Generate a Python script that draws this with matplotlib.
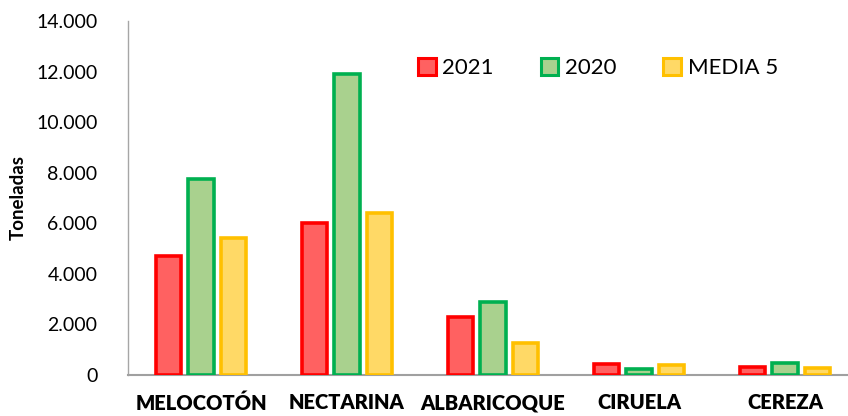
import matplotlib
matplotlib.use("Agg")
import matplotlib.pyplot as plt
import numpy as np
from matplotlib.patches import Patch
from matplotlib.ticker import FuncFormatter

categories = ["MELOCOTÓN", "NECTARINA", "ALBARICOQUE", "CIRUELA", "CEREZA"]
series_names = ["2021", "2020", "MEDIA 5"]
v2021 = [4700, 6000, 2300, 420, 300]
v2020 = [7750, 11900, 2880, 230, 460]
vmedia = [5400, 6400, 1250, 400, 260]
yticks = [0, 2000, 4000, 6000, 8000, 10000, 12000, 14000]

fills = ["#FF6161", "#A9D18E", "#FFD966"]
edges = ["#FF0000", "#00B050", "#FFC000"]

plt.rcParams['font.family'] = ['Lato', 'DejaVu Sans']

fig = plt.figure(figsize=(8.48, 4.16), dpi=100)
ax = fig.add_axes([128/848, 41/416, 1 - 128/848, (375-21)/416])

x = np.arange(len(categories))
offs = [-0.223, 0.0, 0.223]
w = 0.175
for vals, o, fc, ec, name in zip([v2021, v2020, vmedia], offs, fills, edges, series_names):
    ax.bar(x + o, vals, width=w, color=fc, edgecolor=ec, linewidth=2.6, label=name, zorder=3)

ax.set_xlim(-0.5, -0.5 + 720/146)
ax.set_ylim(0, 14000)
ax.set_yticks(yticks)
ax.yaxis.set_major_formatter(FuncFormatter(lambda v, p: f"{int(v):,}".replace(",", ".")))
ax.tick_params(axis='y', length=0, labelsize=14, pad=22)
ax.set_xticks(x)
ax.set_xticklabels(categories, fontweight='heavy', fontsize=14.5)
ax.tick_params(axis='x', length=0, pad=13)

for s in ['top', 'right']:
    ax.spines[s].set_visible(False)
ax.spines['left'].set_color('#A6A6A6')
ax.spines['bottom'].set_color('#A0A0A0')
ax.spines['bottom'].set_linewidth(1.5)
ax.spines['left'].set_linewidth(1.0)

fig.text(18/848, (416-197)/416, "Toneladas", rotation=90, fontsize=13.5, fontweight='bold', ha='center', va='center')

handles = [Patch(facecolor=fc, edgecolor=ec, linewidth=2.2) for fc, ec in zip(fills, edges)]
leg = fig.legend(handles, series_names, loc='center', bbox_to_anchor=(598/848, (416-68)/416),
                 ncol=3, frameon=False, fontsize=16, handlelength=0.8, handleheight=0.8,
                 handletextpad=0.3, columnspacing=2.1)

fig.savefig("out.png", dpi=100)
